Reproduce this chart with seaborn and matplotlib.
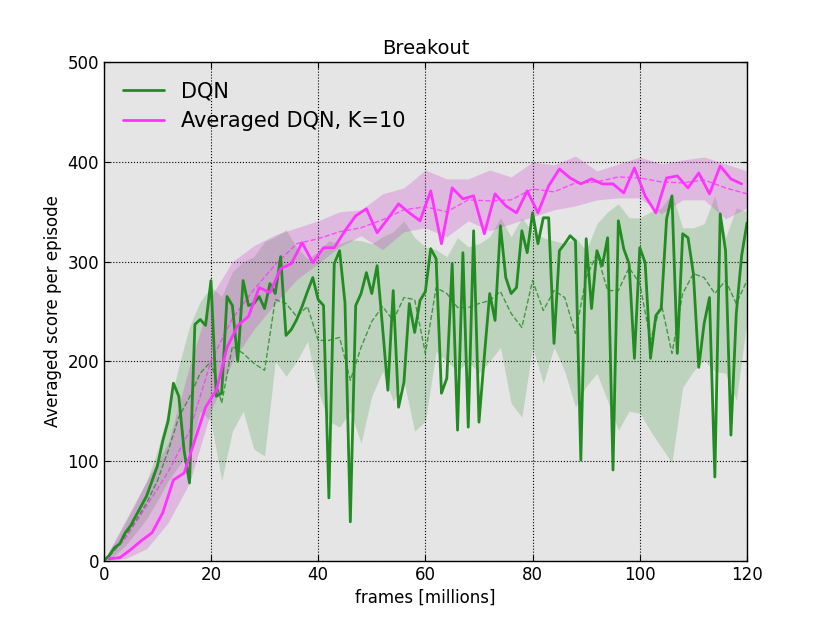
import numpy as np
import pandas as pd
import matplotlib
matplotlib.use('Agg')
import matplotlib.pyplot as plt
import seaborn as sns

# DQN score, one point per million frames
dqn_x = np.arange(0, 121)
dqn_score = [0, 5, 13, 17, 28, 35, 45, 55, 65, 80, 95, 120, 140, 178, 165, 110, 78, 237, 242, 236,
             281, 165, 168, 265, 256, 200, 281, 256, 258, 265, 253, 278, 268, 305, 226, 232, 242, 255, 270, 284,
             262, 256, 63, 298, 311, 259, 39, 256, 268, 289, 268, 296, 235, 171, 271, 154, 179, 258, 229, 261,
             270, 313, 303, 168, 183, 298, 131, 309, 134, 331, 139, 205, 268, 241, 336, 284, 268, 274, 331, 309,
             349, 318, 344, 344, 218, 311, 318, 326, 321, 101, 323, 253, 311, 296, 324, 91, 341, 313, 298, 203,
             314, 299, 203, 246, 253, 343, 366, 208, 328, 324, 288, 194, 238, 264, 84, 348, 311, 126, 248, 306,
             339]

# DQN mean and spread over runs, every 2 million frames
dqn_band_x = np.arange(0, 121, 2)
dqn_mean = [0, 10, 25, 40, 58, 80, 110, 144, 164, 188, 200, 158, 215, 208, 198, 191, 262, 258, 245, 255,
            221, 221, 224, 181, 214, 240, 255, 241, 264, 262, 208, 274, 268, 254, 254, 258, 261, 270, 248, 234,
            281, 251, 271, 264, 228, 284, 308, 271, 271, 294, 278, 221, 258, 208, 268, 288, 284, 268, 281, 258,
            281]
dqn_low = [0, 5, 15, 28, 42, 60, 80, 95, 110, 150, 140, 80, 130, 150, 112, 105, 200, 185, 200, 220,
           170, 140, 134, 150, 118, 165, 190, 160, 180, 130, 140, 210, 200, 190, 200, 188, 200, 214, 158, 144,
           214, 178, 214, 190, 154, 175, 188, 160, 131, 150, 148, 130, 114, 98, 174, 190, 201, 190, 188, 161,
           241]
dqn_high = [0, 18, 38, 58, 80, 110, 150, 195, 235, 260, 275, 265, 290, 300, 305, 320, 325, 332, 314, 303,
            310, 321, 318, 322, 321, 318, 325, 330, 341, 324, 315, 312, 305, 324, 315, 318, 325, 344, 325, 344,
            330, 324, 321, 318, 324, 311, 338, 350, 358, 344, 344, 350, 354, 368, 334, 334, 338, 366, 324, 354,
            350]

# Averaged DQN score, every 2 million frames
avg_x = np.arange(1, 120, 2)
avg_score = [2, 3, 11, 20, 28, 48, 81, 88, 121, 154, 171, 214, 236, 245, 274, 269, 293, 298, 319, 299,
             314, 314, 331, 346, 353, 329, 343, 358, 349, 341, 371, 318, 374, 363, 366, 328, 368, 356, 349, 371,
             349, 376, 393, 384, 378, 383, 378, 378, 369, 394, 366, 349, 384, 386, 374, 389, 368, 396, 383, 378]

# Averaged DQN mean and spread, every 4 million frames
avg_band_x = np.arange(0, 121, 4)
avg_mean = [0, 22, 55, 89, 130, 200, 243, 272, 297, 318, 323, 330, 334, 342, 352, 355, 350, 362, 361, 362,
            373, 370, 379, 380, 385, 384, 380, 379, 382, 374, 368]
avg_low = [0, 2, 12, 38, 78, 150, 200, 232, 258, 282, 298, 315, 326, 312, 330, 334, 325, 341, 331, 338,
           345, 352, 356, 362, 364, 364, 348, 362, 362, 343, 354]
avg_high = [0, 40, 80, 118, 195, 265, 300, 316, 327, 334, 341, 350, 352, 368, 374, 392, 383, 383, 392, 385,
            400, 397, 406, 391, 398, 405, 398, 402, 405, 398, 391]

green = '#228b22'
pink = '#ff33ff'

sns.set_style('darkgrid', {'axes.facecolor': '#e5e5e5', 'axes.edgecolor': 'black',
                           'grid.color': 'black', 'grid.linestyle': ':',
                           'xtick.direction': 'in', 'ytick.direction': 'in',
                           'text.color': 'black', 'axes.labelcolor': 'black',
                           'xtick.color': 'black', 'ytick.color': 'black'})
plt.rcParams['font.family'] = ['DejaVu Sans']
plt.rcParams['axes.linewidth'] = 1.0
plt.rcParams['grid.linewidth'] = 0.8

fig, ax = plt.subplots(figsize=(8.3, 6.23), dpi=100)
fig.subplots_adjust(left=0.125, right=0.9, bottom=0.1, top=0.9)

dqn = pd.DataFrame({'x': dqn_x, 'y': dqn_score})
avg = pd.DataFrame({'x': avg_x, 'y': avg_score})
dqn_b = pd.DataFrame({'x': dqn_band_x, 'm': dqn_mean, 'lo': dqn_low, 'hi': dqn_high})
avg_b = pd.DataFrame({'x': avg_band_x, 'm': avg_mean, 'lo': avg_low, 'hi': avg_high})

ax.fill_between(dqn_b['x'], dqn_b['lo'], dqn_b['hi'], color=green, alpha=0.2, lw=0)
ax.fill_between(avg_b['x'], avg_b['lo'], avg_b['hi'], color='#cc33cc', alpha=0.25, lw=0)
sns.lineplot(data=dqn_b, x='x', y='m', ax=ax, color=green, lw=1.0, linestyle='--', alpha=0.8)
sns.lineplot(data=avg_b, x='x', y='m', ax=ax, color=pink, lw=1.0, linestyle='--', alpha=0.8)
sns.lineplot(data=dqn, x='x', y='y', ax=ax, color=green, lw=2.0, label='DQN')
sns.lineplot(data=avg, x='x', y='y', ax=ax, color=pink, lw=2.0, label='Averaged DQN, K=10')

ax.set_xlim(0, 120)
ax.set_ylim(0, 500)
ax.set_xticks(range(0, 121, 20))
ax.set_yticks(range(0, 501, 100))
ax.tick_params(labelsize=12, length=4, colors='black', bottom=True, left=True, top=True, right=True)
ax.set_xlabel('frames [millions]', fontsize=12, color='black')
ax.set_ylabel('Averaged score per episode', fontsize=12, color='black')
ax.set_title('Breakout', fontsize=14, color='black')
leg = ax.legend(loc='upper left', frameon=False, fontsize=15)
for t in leg.get_texts():
    t.set_color('black')
for s in ax.spines.values():
    s.set_visible(True)
    s.set_color('black')

fig.savefig('out.png', dpi=100)
